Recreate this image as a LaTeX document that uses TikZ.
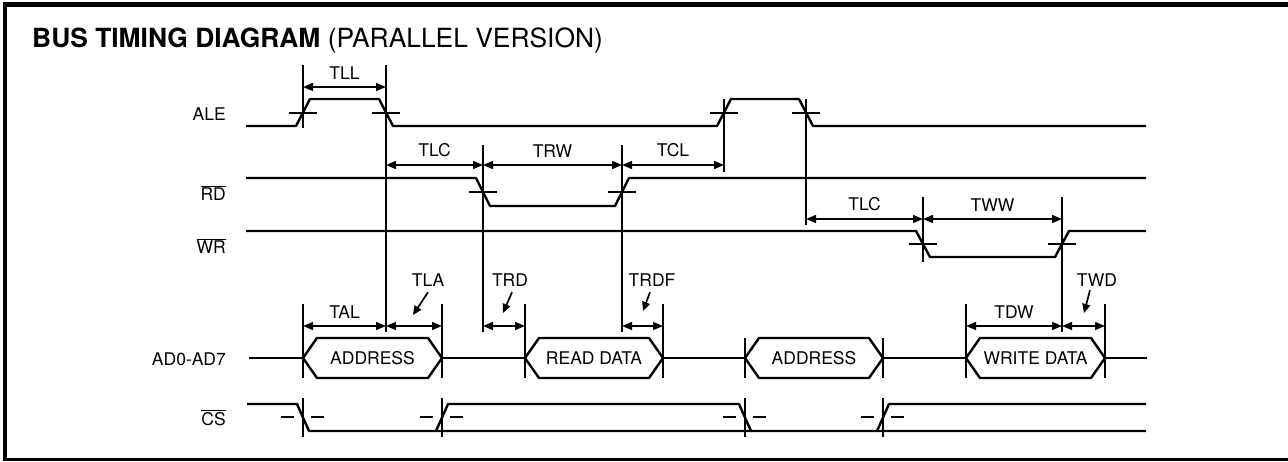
\documentclass[tikz,border=0pt]{standalone}
\usepackage{fontspec}
\setmainfont{TeX Gyre Heros}
\usetikzlibrary{arrows.meta}

\tikzset{
  sig/.style={line width=2.4pt, line join=round},
  idle/.style={line width=1.6pt},
  tickln/.style={line width=1.3pt},
  dim/.style={line width=1.4pt, {Triangle[length=10pt,width=8pt]}-{Triangle[length=10pt,width=8pt]}},
  ptr/.style={line width=1.7pt, -{Triangle[length=9pt,width=8pt]}},
  lbl/.style={inner sep=0pt, font=\fontsize{17.5}{20}\selectfont},
  sname/.style={lbl, anchor=base east},
}

\begin{document}
\begin{tikzpicture}[x=1pt, y=-1pt] % one unit = one pixel, y grows downwards
    \useasboundingbox (0,0) rectangle (1288,461);

    % Frame (open on the right)
    \draw[line width=4.5pt] (1288,4.5) -- (5,4.5) -- (5,461);
    \draw[line width=2.5pt] (3,459.5) -- (1288,459.5);

    % Title
    \node[anchor=base west, inner sep=0pt, font=\fontsize{26.4}{30}\selectfont] (title) at (32,47)
        {\textbf{BUS TIMING DIAGRAM} (PARALLEL VERSION)};

    % Signal names
    \node[sname] (ale) at (226,120) {ALE};
    \node[sname] (rd)  at (226,200) {$\overline{\mbox{RD}}$};
    \node[sname] (wr)  at (226,253) {$\overline{\mbox{WR}}$};
    \node[sname] (ad)  at (226,365) {AD0-AD7};
    \node[sname] (cs)  at (226,425) {$\overline{\mbox{CS}}$};

    % ALE
    \draw[sig] (246,126) -- (296,126) -- (310,99) -- (379,99) -- (393,126) -- (717,126)
        -- (731,99) -- (799,99) -- (813,126) -- (1146,126);
    \foreach \x in {303,386,724,806}
        \draw[tickln] (\x-14,113) -- (\x+14,113);

    % RD
    \draw[sig] (246,178) -- (476,178) -- (490,206) -- (615,206) -- (629,178) -- (1146,178);
    \foreach \x in {483,622}
        \draw[tickln] (\x-14,192) -- (\x+14,192);

    % WR
    \draw[sig] (246,231) -- (916,231) -- (930,257) -- (1055,257) -- (1069,231) -- (1146,231);
    \foreach \x in {923,1062}
        \draw[tickln] (\x-14,244) -- (\x+14,244);

    % AD0-AD7 bus
    \draw[idle] (249,358) -- (303,358);
    \draw[idle] (442,358) -- (525,358);
    \draw[idle] (663,358) -- (745,358);
    \draw[idle] (883,358) -- (966,358);
    \draw[idle] (1105,358) -- (1147,358);
    \foreach \xa/\xb/\nm/\txt in {303/442/adr1/ADDRESS, 525/663/rdat/READ DATA,
                                   745/883/adr2/ADDRESS, 966/1105/wdat/WRITE DATA}{
        \draw[sig] (\xa,358) -- (\xa+14,338) -- (\xb-14,338) -- (\xb,358)
            -- (\xb-14,378) -- (\xa+14,378) -- cycle;
        \node[lbl] (\nm) at ({(\xa+\xb)/2},358.5) {\txt};
    }

    % CS
    \draw[sig] (247,404) -- (297,404) -- (309,431) -- (1146,431);
    \draw[sig] (436,431) -- (448,404) -- (739,404) -- (751,431);
    \draw[sig] (877,431) -- (889,404) -- (1146,404);
    \foreach \x in {303,442,745,883}{
        \draw[tickln] (\x-22,417) -- (\x-9,417);
        \draw[tickln] (\x+8,417) -- (\x+21,417);
        \draw[tickln] (\x,398) -- (\x,437);
    }

    % Vertical reference lines
    \draw[tickln] (303,65) -- (303,128);
    \draw[tickln] (386,65) -- (386,332);
    \draw[tickln] (483,145) -- (483,332);
    \draw[tickln] (622,145) -- (622,332);
    \draw[tickln] (724,99) -- (724,172);
    \draw[tickln] (806,99) -- (806,225);
    \draw[tickln] (923,197) -- (923,262);
    \draw[tickln] (1062,197) -- (1062,332);
    \foreach \x in {303,442,525,663,966,1105}
        \draw[tickln] (\x,304) -- (\x,378);
    \foreach \x in {745,883}
        \draw[tickln] (\x,338) -- (\x,378);

    % Timing intervals
    \foreach \xa/\xb/\yy/\nm/\txt in {303/386/87/tll/TLL, 386/483/165/tlc1/TLC, 483/622/165/trw/TRW,
            622/724/165/tcl/TCL, 806/923/219/tlc2/TLC, 923/1062/219/tww/TWW,
            303/386/326/tal/TAL, 966/1062/326/tdw/TDW}
        \draw[dim] (\xa,\yy) -- node[lbl, above=7pt] (\nm) {\txt} (\xb,\yy);
    \foreach \xa/\xb in {386/442, 483/525, 622/663, 1062/1105}
        \draw[dim] (\xa,326) -- (\xb,326);

    % Labels with pointers
    \node[lbl, anchor=base] (tla)  at (428,286) {TLA};
    \node[lbl, anchor=base] (trd)  at (510,286) {TRD};
    \node[lbl, anchor=base] (trdf) at (652,286) {TRDF};
    \node[lbl, anchor=base] (twd)  at (1097,286) {TWD};
    \coordinate (tla-tip)  at (413,315);
    \coordinate (trd-tip)  at (503,313);
    \coordinate (trdf-tip) at (643,311);
    \coordinate (twd-tip)  at (1084,313);
    \draw[ptr] ([yshift=-6pt]tla.south) -- (tla-tip);
    \draw[ptr] ([xshift=2pt,yshift=-6pt]trd.south) -- (trd-tip);
    \draw[ptr] ([xshift=-2pt,yshift=-6pt]trdf.south) -- (trdf-tip);
    \draw[ptr] ([xshift=-7pt,yshift=-4pt]twd.south) -- (twd-tip);

\end{tikzpicture}
\end{document}
